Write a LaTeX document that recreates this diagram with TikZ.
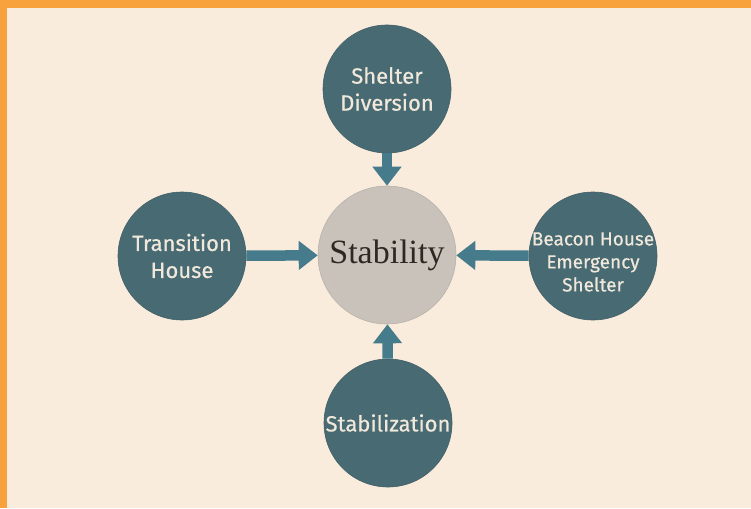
\documentclass[tikz,border=0pt]{standalone}
\usepackage{fontspec}
\setmainfont{Liberation Serif}
\newfontfamily\labelfont[FakeBold=0.5]{Fira Sans}
\usetikzlibrary{arrows.meta}
\definecolor{bgc}{RGB}{249,236,221}
\definecolor{orangec}{RGB}{247,162,60}
\definecolor{tealc}{RGB}{72,106,114}
\definecolor{arrowc}{RGB}{70,123,140}
\definecolor{grayc}{RGB}{200,194,186}
\definecolor{creamc}{RGB}{240,232,218}
\definecolor{darktext}{RGB}{46,40,34}
\tikzset{
  outer/.style={circle, fill=tealc, draw=tealc!90!black, line width=0.6pt, minimum size=128pt, inner sep=0pt, text=creamc, font=\labelfont\fontsize{22}{27}\selectfont, align=center},
  core/.style={circle, fill=grayc, draw=grayc!92!black, line width=0.6pt, minimum size=138pt, inner sep=0pt, text=darktext, font=\fontsize{34}{40}\selectfont},
  flow/.style={draw=arrowc, line width=10.5pt, -{Triangle[width=28pt,length=19pt,fill=arrowc]}}
}
\begin{document}
\begin{tikzpicture}[x=1pt,y=1pt]
\useasboundingbox (0,0) rectangle (751,-508);
\fill[bgc] (0,0) rectangle (751,-508);
\fill[orangec] (0,0) rectangle (751,-8.5);
\fill[orangec] (0,0) rectangle (7,-508);
\node[core] (c) at (387,-255) {Stability};
\node[outer] (t) at (387,-89) {Shelter\\Diversion};
\node[outer] (l) at (182,-256) {Transition\\House};
\node[outer] (r) at (593,-256) {};
\node[text=creamc, font=\labelfont\fontsize{19}{23}\selectfont, align=center, inner sep=0pt] (rt) at (593,-262) {Beacon House\\Emergency\\Shelter};
\node[outer] (b) at (388,-423) {Stabilization};
\draw[flow] (t) -- (c);
\draw[flow] (l) -- (c);
\draw[flow] (r) -- (c);
\draw[flow] (b) -- (c);
\end{tikzpicture}
\end{document}
